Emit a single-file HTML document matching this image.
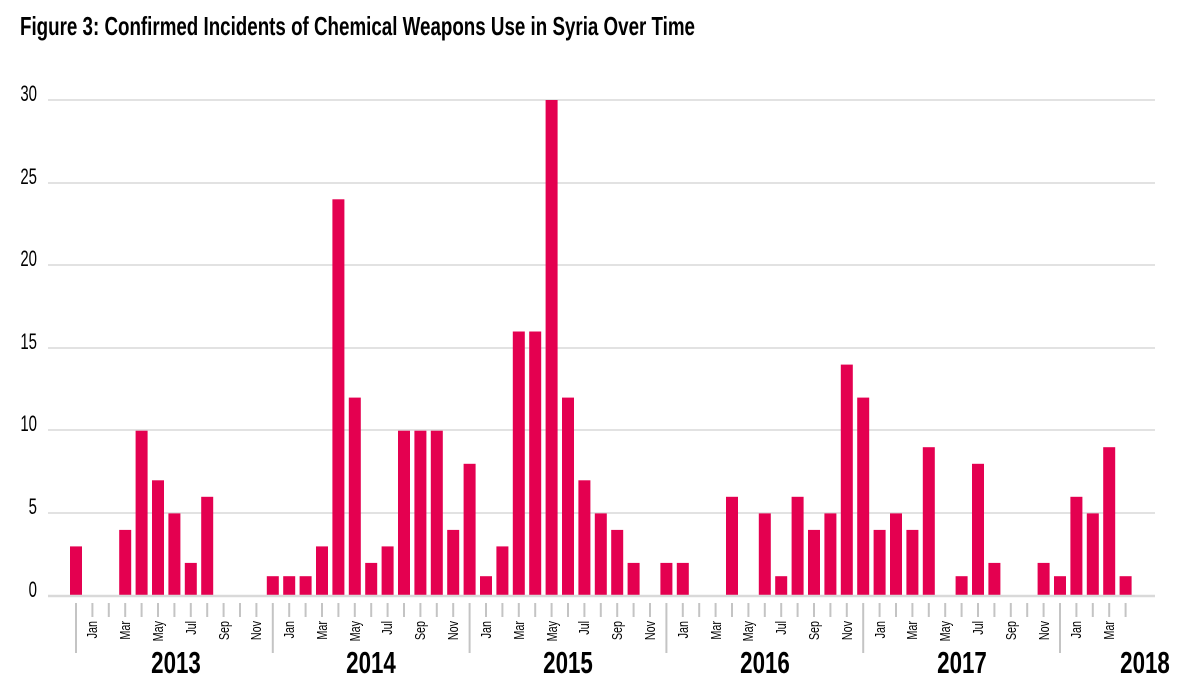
<!DOCTYPE html>
<html><head><meta charset="utf-8"><style>
html,body{margin:0;padding:0;background:#fff;}
svg{display:block;font-family:"Liberation Sans",sans-serif;}
</style></head><body>
<svg width="1182" height="690" viewBox="0 0 1182 690">
<text x="20" y="35" font-size="26" font-weight="bold" textLength="675" lengthAdjust="spacingAndGlyphs" fill="#000">Figure 3: Confirmed Incidents of Chemical Weapons Use in Syria Over Time</text>
<g stroke="#d9d9d9" stroke-width="1.5">
<line x1="48" y1="100" x2="1155" y2="100"/>
<line x1="48" y1="183" x2="1155" y2="183"/>
<line x1="48" y1="265" x2="1155" y2="265"/>
<line x1="48" y1="348" x2="1155" y2="348"/>
<line x1="48" y1="430" x2="1155" y2="430"/>
<line x1="48" y1="513" x2="1155" y2="513"/>
</g>
<g font-size="22" fill="#000" text-anchor="end">
<text transform="translate(37,101) scale(0.68,1)">30</text>
<text transform="translate(37,184) scale(0.68,1)">25</text>
<text transform="translate(37,266) scale(0.68,1)">20</text>
<text transform="translate(37,349) scale(0.68,1)">15</text>
<text transform="translate(37,431) scale(0.68,1)">10</text>
<text transform="translate(37,514) scale(0.68,1)">5</text>
<text transform="translate(37,597) scale(0.68,1)">0</text>
</g>
<g fill="#e40050">
<rect x="70" y="546.4" width="12" height="49.6"/>
<rect x="119.2" y="529.9" width="12" height="66.1"/>
<rect x="135.6" y="430.7" width="12" height="165.3"/>
<rect x="152" y="480.3" width="12" height="115.7"/>
<rect x="168.4" y="513.4" width="12" height="82.6"/>
<rect x="184.8" y="562.9" width="12" height="33.1"/>
<rect x="201.2" y="496.8" width="12" height="99.2"/>
<rect x="266.8" y="576.2" width="12" height="19.8"/>
<rect x="283.2" y="576.2" width="12" height="19.8"/>
<rect x="299.6" y="576.2" width="12" height="19.8"/>
<rect x="316" y="546.4" width="12" height="49.6"/>
<rect x="332.4" y="199.3" width="12" height="396.7"/>
<rect x="348.8" y="397.6" width="12" height="198.4"/>
<rect x="365.2" y="562.9" width="12" height="33.1"/>
<rect x="381.6" y="546.4" width="12" height="49.6"/>
<rect x="398" y="430.7" width="12" height="165.3"/>
<rect x="414.4" y="430.7" width="12" height="165.3"/>
<rect x="430.8" y="430.7" width="12" height="165.3"/>
<rect x="447.2" y="529.9" width="12" height="66.1"/>
<rect x="463.6" y="463.8" width="12" height="132.2"/>
<rect x="480" y="576.2" width="12" height="19.8"/>
<rect x="496.4" y="546.4" width="12" height="49.6"/>
<rect x="512.8" y="331.5" width="12" height="264.5"/>
<rect x="529.2" y="331.5" width="12" height="264.5"/>
<rect x="545.6" y="100" width="12" height="496"/>
<rect x="562" y="397.6" width="12" height="198.4"/>
<rect x="578.4" y="480.3" width="12" height="115.7"/>
<rect x="594.8" y="513.4" width="12" height="82.6"/>
<rect x="611.2" y="529.9" width="12" height="66.1"/>
<rect x="627.6" y="562.9" width="12" height="33.1"/>
<rect x="660.4" y="562.9" width="12" height="33.1"/>
<rect x="676.8" y="562.9" width="12" height="33.1"/>
<rect x="726" y="496.8" width="12" height="99.2"/>
<rect x="758.8" y="513.4" width="12" height="82.6"/>
<rect x="775.2" y="576.2" width="12" height="19.8"/>
<rect x="791.6" y="496.8" width="12" height="99.2"/>
<rect x="808" y="529.9" width="12" height="66.1"/>
<rect x="824.4" y="513.4" width="12" height="82.6"/>
<rect x="840.8" y="364.6" width="12" height="231.4"/>
<rect x="857.2" y="397.6" width="12" height="198.4"/>
<rect x="873.6" y="529.9" width="12" height="66.1"/>
<rect x="890" y="513.4" width="12" height="82.6"/>
<rect x="906.4" y="529.9" width="12" height="66.1"/>
<rect x="922.8" y="447.2" width="12" height="148.8"/>
<rect x="955.6" y="576.2" width="12" height="19.8"/>
<rect x="972" y="463.8" width="12" height="132.2"/>
<rect x="988.4" y="562.9" width="12" height="33.1"/>
<rect x="1037.6" y="562.9" width="12" height="33.1"/>
<rect x="1054" y="576.2" width="12" height="19.8"/>
<rect x="1070.4" y="496.8" width="12" height="99.2"/>
<rect x="1086.8" y="513.4" width="12" height="82.6"/>
<rect x="1103.2" y="447.2" width="12" height="148.8"/>
<rect x="1119.6" y="576.2" width="12" height="19.8"/>
</g>
<line x1="48" y1="596" x2="1155" y2="596" stroke="#d9d9d9" stroke-width="2.5"/>
<g stroke="#c4c4c4" stroke-width="2">
<line x1="76" y1="603" x2="76" y2="653"/>
<line x1="272.8" y1="603" x2="272.8" y2="653"/>
<line x1="469.6" y1="603" x2="469.6" y2="653"/>
<line x1="666.4" y1="603" x2="666.4" y2="653"/>
<line x1="863.2" y1="603" x2="863.2" y2="653"/>
<line x1="1060" y1="603" x2="1060" y2="653"/>
</g>
<g stroke="#c4c4c4" stroke-width="2" stroke-dasharray="14 1000">
<path d="M92.4 603V617M108.8 603V617M125.2 603V617M141.6 603V617M158 603V617M174.4 603V617M190.8 603V617M207.2 603V617M223.6 603V617M240 603V617M256.4 603V617"/>
<path d="M289.2 603V617M305.6 603V617M322 603V617M338.4 603V617M354.8 603V617M371.2 603V617M387.6 603V617M404 603V617M420.4 603V617M436.8 603V617M453.2 603V617"/>
<path d="M486 603V617M502.4 603V617M518.8 603V617M535.2 603V617M551.6 603V617M568 603V617M584.4 603V617M600.8 603V617M617.2 603V617M633.6 603V617M650 603V617"/>
<path d="M682.8 603V617M699.2 603V617M715.6 603V617M732 603V617M748.4 603V617M764.8 603V617M781.2 603V617M797.6 603V617M814 603V617M830.4 603V617M846.8 603V617"/>
<path d="M879.6 603V617M896 603V617M912.4 603V617M928.8 603V617M945.2 603V617M961.6 603V617M978 603V617M994.4 603V617M1010.8 603V617M1027.2 603V617M1043.6 603V617"/>
<path d="M1076.4 603V617M1092.8 603V617M1109.2 603V617M1125.6 603V617"/>
</g>
<g font-size="15" fill="#000" text-anchor="end">
<text transform="translate(97,621) rotate(-90) scale(0.72,1)">Jan</text>
<text transform="translate(130,621) rotate(-90) scale(0.72,1)">Mar</text>
<text transform="translate(163,621) rotate(-90) scale(0.72,1)">May</text>
<text transform="translate(196,621) rotate(-90) scale(0.72,1)">Jul</text>
<text transform="translate(229,621) rotate(-90) scale(0.72,1)">Sep</text>
<text transform="translate(261,621) rotate(-90) scale(0.72,1)">Nov</text>
<text transform="translate(294,621) rotate(-90) scale(0.72,1)">Jan</text>
<text transform="translate(327,621) rotate(-90) scale(0.72,1)">Mar</text>
<text transform="translate(360,621) rotate(-90) scale(0.72,1)">May</text>
<text transform="translate(392,621) rotate(-90) scale(0.72,1)">Jul</text>
<text transform="translate(425,621) rotate(-90) scale(0.72,1)">Sep</text>
<text transform="translate(458,621) rotate(-90) scale(0.72,1)">Nov</text>
<text transform="translate(491,621) rotate(-90) scale(0.72,1)">Jan</text>
<text transform="translate(524,621) rotate(-90) scale(0.72,1)">Mar</text>
<text transform="translate(557,621) rotate(-90) scale(0.72,1)">May</text>
<text transform="translate(589,621) rotate(-90) scale(0.72,1)">Jul</text>
<text transform="translate(622,621) rotate(-90) scale(0.72,1)">Sep</text>
<text transform="translate(655,621) rotate(-90) scale(0.72,1)">Nov</text>
<text transform="translate(688,621) rotate(-90) scale(0.72,1)">Jan</text>
<text transform="translate(721,621) rotate(-90) scale(0.72,1)">Mar</text>
<text transform="translate(753,621) rotate(-90) scale(0.72,1)">May</text>
<text transform="translate(786,621) rotate(-90) scale(0.72,1)">Jul</text>
<text transform="translate(819,621) rotate(-90) scale(0.72,1)">Sep</text>
<text transform="translate(852,621) rotate(-90) scale(0.72,1)">Nov</text>
<text transform="translate(885,621) rotate(-90) scale(0.72,1)">Jan</text>
<text transform="translate(917,621) rotate(-90) scale(0.72,1)">Mar</text>
<text transform="translate(950,621) rotate(-90) scale(0.72,1)">May</text>
<text transform="translate(983,621) rotate(-90) scale(0.72,1)">Jul</text>
<text transform="translate(1016,621) rotate(-90) scale(0.72,1)">Sep</text>
<text transform="translate(1049,621) rotate(-90) scale(0.72,1)">Nov</text>
<text transform="translate(1081,621) rotate(-90) scale(0.72,1)">Jan</text>
<text transform="translate(1114,621) rotate(-90) scale(0.72,1)">Mar</text>
</g>
<g font-size="31" font-weight="bold" fill="#000" text-anchor="middle">
<text transform="translate(176,673) scale(0.72,1)">2013</text>
<text transform="translate(371,673) scale(0.72,1)">2014</text>
<text transform="translate(568,673) scale(0.72,1)">2015</text>
<text transform="translate(765,673) scale(0.72,1)">2016</text>
<text transform="translate(962,673) scale(0.72,1)">2017</text>
<text transform="translate(1145,673) scale(0.72,1)">2018</text>
</g>
</svg>
</body></html>
